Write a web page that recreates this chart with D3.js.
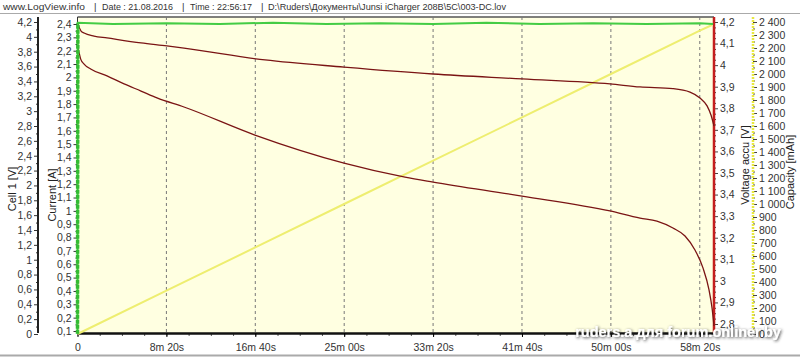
<!DOCTYPE html>
<html>
<head>
<meta charset="utf-8">
<script src="https://cdn.jsdelivr.net/npm/d3@7"></script>
<style>
body { margin:0; background:#fff; }
svg { font-family: Arial, "Liberation Sans", sans-serif; }
.tick text { font-size:10.5px; fill:#333; }
.axis-label { font-size:11px; fill:#222; }
.header { font-size:9.5px; fill:#333; }
</style>
</head>
<body>
<svg width="800" height="357"></svg>
<script>
// header texts
const headerItems = ["www.LogView.info", "|", "Date : 21.08.2016", "|", "Time : 22:56:17", "|",
  "D:\\Ruders\\Документы\\Junsi iCharger 208B\\5C\\003-DC.lov"];

// x axis (seconds)
const timeTicks = [0, 500, 1000, 1500, 2000, 2500, 3000, 3500];
const timeTickLabels = ["0", "8m 20s", "16m 40s", "25m 00s", "33m 20s", "41m 40s", "50m 00s", "58m 20s"];

// accu voltage, lower curve [V]
const accuTime = [0, 8, 18, 37, 74, 166, 262, 357, 447, 599, 998, 1499, 1842, 2000, 2500, 2995, 3164, 3259, 3349, 3417, 3473, 3518, 3552, 3569, 3580];
const accuVolt = [4.09, 4.061, 4.028, 4.005, 3.982, 3.950, 3.913, 3.880, 3.848, 3.806, 3.676, 3.546, 3.481, 3.458, 3.393, 3.324, 3.291, 3.277, 3.245, 3.208, 3.143, 3.060, 2.958, 2.874, 2.791];

// second voltage curve, upper [V]
const upperTime = [0, 3, 20, 37, 93, 166, 357, 503, 599, 1055, 1499, 2000, 2500, 2995, 3164, 3349, 3445, 3501, 3541, 3563, 3580];
const upperVolt = [4.20, 4.191, 4.158, 4.149, 4.135, 4.126, 4.103, 4.089, 4.079, 4.024, 3.991, 3.959, 3.936, 3.913, 3.899, 3.891, 3.875, 3.848, 3.811, 3.769, 3.718];

// current [A]
const currentTime = [0, 2, 200, 500, 800, 1100, 1400, 1700, 2000, 2300, 2600, 2900, 3200, 3500, 3575];
const currentAmp = [0.08, 2.41, 2.40, 2.405, 2.40, 2.41, 2.40, 2.405, 2.40, 2.41, 2.40, 2.405, 2.40, 2.405, 2.40];

// capacity [mAh]
const capTime = [0, 500, 1000, 1500, 2000, 2500, 3000, 3500, 3569];
const capMah = [0, 333, 666, 1000, 1333, 1666, 2000, 2333, 2377];

const svg = d3.select('svg');
const loc = d3.formatLocale({ decimal: ",", thousands: "\u00a0", grouping: [3], currency: ["", ""] });
const fmt1 = v => loc.format(".1~f")(v);

const plot = { left: 77.5, right: 714, top: 17, bottom: 333 };

const x = d3.scaleLinear().domain([0, 3580]).range([plot.left, plot.right]);
const yCell = d3.scaleLinear().domain([0, 4.2]).range([334, 22]);
const yCur = d3.scaleLinear().domain([0.1, 2.4]).range([331, 24]);
const yAccu = d3.scaleLinear().domain([2.8, 4.2]).range([324, 22]);
const yCap = d3.scaleLinear().domain([0, 2400]).range([334, 22]);

// drop shadow for watermark
const defs = svg.append('defs');
const f = defs.append('filter').attr('id', 'sh').attr('x', '-10%').attr('y', '-50%').attr('width', '120%').attr('height', '200%');
f.append('feDropShadow').attr('dx', 1).attr('dy', 1).attr('stdDeviation', 1.6).attr('flood-color', '#222').attr('flood-opacity', 0.9);

// header
const hx = [3, 94, 102, 182, 190, 261, 268];
const hw = [82, 0, 71, 0, 62, 0, 238];
svg.selectAll('.header').data(headerItems).enter().append('text')
  .attr('class', 'header').attr('x', (d, i) => hx[i]).attr('y', 10)
  .each(function(d, i) { if (hw[i]) d3.select(this).attr('textLength', hw[i]).attr('lengthAdjust', 'spacingAndGlyphs'); })
  .text(d => d);
svg.append('line').attr('x1', 0).attr('x2', 800).attr('y1', 13.5).attr('y2', 13.5)
  .attr('stroke', '#aaa').attr('stroke-width', 1);
svg.append('line').attr('x1', 0).attr('x2', 800).attr('y1', 355.5).attr('y2', 355.5)
  .attr('stroke', '#aaa').attr('stroke-width', 2);

// plot background
svg.append('rect').attr('x', plot.left).attr('y', plot.top)
  .attr('width', plot.right - plot.left).attr('height', plot.bottom - plot.top)
  .attr('fill', '#ffffe1');
svg.append('line').attr('x1', plot.left).attr('x2', plot.right).attr('y1', plot.top).attr('y2', plot.top)
  .attr('stroke', '#555').attr('stroke-width', 1.5);

// vertical dashed grid
svg.append('g').selectAll('line').data(timeTicks.slice(1)).enter().append('line')
  .attr('x1', d => x(d)).attr('x2', d => x(d)).attr('y1', plot.top).attr('y2', plot.bottom)
  .attr('stroke', '#777').attr('stroke-dasharray', '3,3').attr('stroke-width', 1);

// bottom axis
const xMinor = svg.append('g').attr('transform', `translate(0,${plot.bottom})`)
  .call(d3.axisBottom(x).tickValues(d3.range(0, 3580, 125)).tickSize(3).tickFormat(''));
xMinor.select('.domain').remove();
xMinor.selectAll('line').attr('stroke', '#555');
const xAxisG = svg.append('g').attr('transform', `translate(0,${plot.bottom})`)
  .call(d3.axisBottom(x).tickValues(timeTicks).tickSize(4).tickSizeOuter(0)
    .tickFormat((d, i) => timeTickLabels[i]));
xAxisG.select('.domain').attr('stroke', '#111').attr('stroke-width', 2.5);
xAxisG.selectAll('.tick text').attr('dy', '1em');

// left axes
function leftAxis(scale, xpos, major, minor, fmt, color, width) {
  const gm = svg.append('g').attr('transform', `translate(${xpos},0)`)
    .call(d3.axisLeft(scale).tickValues(minor).tickSize(2).tickFormat(''));
  gm.select('.domain').remove();
  gm.selectAll('line').attr('stroke', '#333');
  const g = svg.append('g').attr('transform', `translate(${xpos},0)`)
    .call(d3.axisLeft(scale).tickValues(major).tickSize(4).tickPadding(2).tickFormat(fmt));
  g.select('.domain').remove();
  g.selectAll('line').attr('stroke', '#333');
  svg.append('line').attr('x1', xpos).attr('x2', xpos).attr('y1', plot.top).attr('y2', plot.bottom)
    .attr('stroke', color).attr('stroke-width', width);
}
leftAxis(yCell, 38, d3.range(0, 4.21, 0.2), d3.range(0.1, 4.2, 0.2), fmt1, '#222', 2);
leftAxis(yCur, plot.left, d3.range(0.1, 2.41, 0.1), d3.range(0.15, 2.4, 0.1), fmt1, '#333', 1);

// right axes
function rightAxis(scale, xpos, major, minor, fmt, color, width, dash) {
  const gm = svg.append('g').attr('transform', `translate(${xpos},0)`)
    .call(d3.axisRight(scale).tickValues(minor).tickSize(2).tickFormat(''));
  gm.select('.domain').remove();
  gm.selectAll('line').attr('stroke', '#444');
  const g = svg.append('g').attr('transform', `translate(${xpos},0)`)
    .call(d3.axisRight(scale).tickValues(major).tickSize(4).tickPadding(2).tickFormat(fmt));
  g.select('.domain').remove();
  g.selectAll('line').attr('stroke', '#444');
  svg.append('line').attr('x1', xpos).attr('x2', xpos).attr('y1', plot.top).attr('y2', plot.bottom)
    .attr('stroke', color).attr('stroke-width', width).attr('stroke-dasharray', dash);
}
rightAxis(yAccu, plot.right, d3.range(2.8, 4.21, 0.1), d3.range(2.825, 4.2, 0.025).filter((d, i) => (i + 1) % 4 !== 0),
  fmt1, '#c41e1e', 2.5, null);
rightAxis(yCap, 753, d3.range(0, 2401, 100), d3.range(50, 2400, 100),
  loc.format(",d"), '#e8e840', 2.5, '2,1');

// axis labels
const labels = [
  { t: 'Cell 1 [V]', x: 16, y: 189 },
  { t: 'Current [A]', x: 56, y: 195 },
  { t: 'Voltage accu [V]', x: 749, y: 165 },
  { t: 'Capacity [mAh]', x: 794, y: 172 }
];
svg.selectAll('.axis-label').data(labels).enter().append('text')
  .attr('class', 'axis-label').attr('text-anchor', 'middle')
  .attr('transform', d => `translate(${d.x},${d.y}) rotate(-90)`).text(d => d.t);

// series
const line = (ys) => d3.line().x(d => x(d[0])).y(d => ys(d[1]));
const zip = (a, b) => a.map((v, i) => [v, b[i]]);

svg.append('path').datum(zip(capTime, capMah)).attr('d', line(yCap))
  .attr('fill', 'none').attr('stroke', '#eeee70').attr('stroke-width', 2);
svg.append('path').datum(zip(upperTime, upperVolt)).attr('d', line(yAccu).curve(d3.curveMonotoneX))
  .attr('fill', 'none').attr('stroke', '#7a1414').attr('stroke-width', 1.3);
svg.append('path').datum(zip(accuTime, accuVolt)).attr('d', line(yAccu).curve(d3.curveMonotoneX))
  .attr('fill', 'none').attr('stroke', '#7a1414').attr('stroke-width', 1.3);
svg.append('path').datum(zip(currentTime, currentAmp)).attr('d', line(yCur))
  .attr('fill', 'none').attr('stroke', '#44cc44').attr('stroke-width', 2);
// thicker green edge at t=0 where the current jumps up
svg.append('path').datum(zip(currentTime.slice(0, 2), currentAmp.slice(0, 2))).attr('d', line(yCur))
  .attr('fill', 'none').attr('stroke', '#33bb33').attr('stroke-width', 3.5).attr('stroke-dasharray', '4,1');

// watermark
svg.append('text').attr('x', 678).attr('y', 337).attr('text-anchor', 'middle')
  .attr('font-size', 14.5).attr('font-weight', 'bold').attr('fill', '#fff')
  .attr('filter', 'url(#sh)').text('ruders.a для forum.onliner.by');
</script>
</body>
</html>
